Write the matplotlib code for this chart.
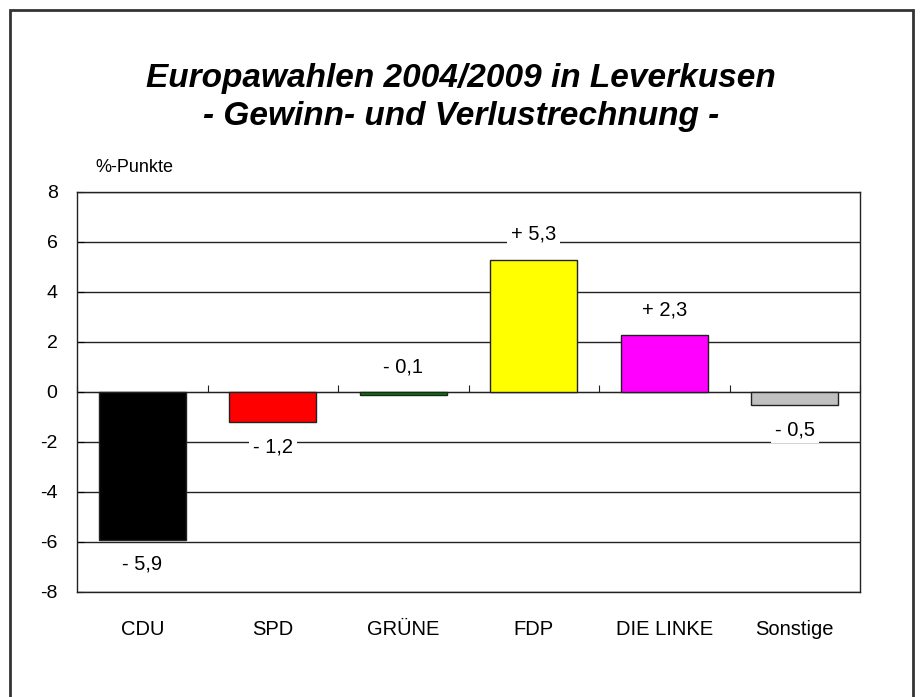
import numpy as np
import matplotlib
matplotlib.use("Agg")
import matplotlib.pyplot as plt
from matplotlib.patches import Rectangle

plt.rcParams['font.family'] = ['Liberation Sans', 'DejaVu Sans']
plt.rcParams['axes.unicode_minus'] = False

# Daten
parteien = ['CDU', 'SPD', 'GRÜNE', 'FDP', 'DIE LINKE', 'Sonstige']
diff = [-5.9, -1.2, -0.1, 5.3, 2.3, -0.5]
farben = ['#000000', '#FF0000', '#008000', '#FFFF00', '#FF00FF', '#C0C0C0']
# Seite des Datenlabels: +1 oberhalb, -1 unterhalb
label_seite = [-1, -1, 1, 1, 1, -1]

fig = plt.figure(figsize=(9.22, 6.97), dpi=100)
# Rahmen um das ganze Diagramm (unten abgeschnitten)
fig.patches.append(Rectangle((10 / 922, -0.1), 903 / 922, 1.1 - 10 / 697,
                             transform=fig.transFigure, fill=False,
                             edgecolor='#333333', linewidth=2))

ax = fig.add_axes([77 / 922, 1 - 592 / 697, 783 / 922, 400 / 697])
x = np.arange(len(parteien))
ax.bar(x, diff, width=0.667, color=farben, edgecolor='#222222', linewidth=1, zorder=3)

ax.set_xlim(-0.5, len(parteien) - 0.5)
ax.set_ylim(-8, 8)
ax.set_yticks(np.arange(-8, 9, 2))
ax.yaxis.grid(True, color='#222222', linewidth=1)
ax.set_axisbelow(True)
ax.tick_params(axis='y', direction='in', length=5, labelsize=14, pad=14)
ax.set_xticks(x, parteien)
ax.tick_params(axis='x', length=0, labelsize=14.5, pad=20)
for s in ax.spines.values():
    s.set_color('#222222')
    s.set_linewidth(1)

# Nulllinie mit Teilstrichen zwischen den Kategorien
sec = ax.secondary_xaxis(0.5)
sec.set_xticks(np.arange(len(parteien) + 1) - 0.5)
sec.tick_params(axis='x', direction='out', length=5, color='#222222')
sec.set_xticklabels([])
sec.spines['bottom'].set_color('#222222')

for xi, v, seite in zip(x, diff, label_seite):
    txt = ('+ ' if v > 0 else '- ') + f"{abs(v):.1f}".replace('.', ',')
    y0 = max(v, 0) if seite > 0 else min(v, 0)
    ax.annotate(txt, (xi, y0), xytext=(0, 25 * seite), textcoords='offset pixels',
                ha='center', va='center', fontsize=14.5, zorder=4,
                bbox=dict(boxstyle='square,pad=0.2', fc='white', ec='none'))

fig.text(0.5, 1 - 78 / 697, 'Europawahlen 2004/2009 in Leverkusen', ha='center', va='center',
         fontsize=24, fontweight='bold', fontstyle='italic')
fig.text(0.5, 1 - 117 / 697, '- Gewinn- und Verlustrechnung -', ha='center', va='center',
         fontsize=24, fontweight='bold', fontstyle='italic')
fig.text(95 / 922, 1 - 167 / 697, '%-Punkte', ha='left', va='center', fontsize=13)

fig.savefig('out.png', dpi=100, facecolor='white')
